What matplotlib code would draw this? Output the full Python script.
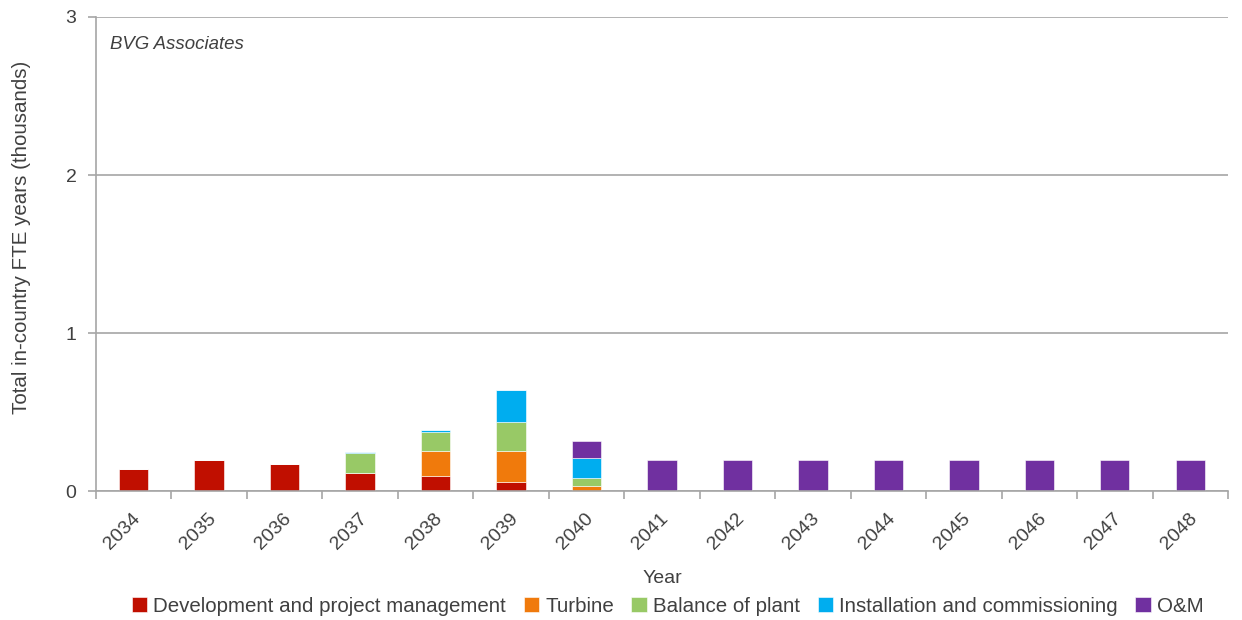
import numpy as np
import matplotlib.pyplot as plt
from matplotlib.transforms import ScaledTranslation

plt.rcParams['font.family'] = ['Liberation Sans', 'DejaVu Sans']

years = ['2034', '2035', '2036', '2037', '2038', '2039', '2040', '2041',
         '2042', '2043', '2044', '2045', '2046', '2047', '2048']
# values in thousands of FTE years
devpm = [0.137, 0.194, 0.171, 0.114, 0.097, 0.057, 0, 0, 0, 0, 0, 0, 0, 0, 0]
turbine = [0, 0, 0, 0, 0.154, 0.194, 0.032, 0, 0, 0, 0, 0, 0, 0, 0]
bop = [0, 0, 0, 0.124, 0.125, 0.186, 0.048, 0, 0, 0, 0, 0, 0, 0, 0]
install = [0, 0, 0, 0.009, 0.008, 0.205, 0.131, 0, 0, 0, 0, 0, 0, 0, 0]
om = [0, 0, 0, 0, 0, 0, 0.105, 0.195, 0.195, 0.195, 0.195, 0.195, 0.195, 0.195, 0.195]

series = [('Development and project management', devpm, '#C00F00'),
          ('Turbine', turbine, '#F07A0C'),
          ('Balance of plant', bop, '#98C966'),
          ('Installation and commissioning', install, '#00ADEF'),
          ('O&M', om, '#7030A0')]

fig = plt.figure(figsize=(12.42, 6.2), dpi=100)
ax = fig.add_axes([0.0773, 0.208, 0.9114, 0.7646])

x = np.arange(len(years))
bottom = np.zeros(len(years))
for name, vals, col in series:
    vals = np.array(vals)
    ax.bar(x, vals, width=0.39, bottom=bottom, color=col, label=name,
           edgecolor='white', linewidth=0.4)
    bottom += vals

ax.set_xlim(-0.5, len(years) - 0.5)
ax.set_ylim(0, 3)
ax.set_yticks([0, 1, 2, 3])
ax.set_yticklabels(['0', '1', '2', '3'], fontsize=14, color='#404040')
ax.yaxis.grid(True, color='#A6A6A6', linewidth=1.2)
ax.set_axisbelow(True)

ax.set_xticks(np.arange(-0.5, len(years), 1.0))
ax.set_xticklabels([])
ax.set_xticks(x, minor=True)
ax.set_xticklabels(years, minor=True, rotation=45, ha='right', va='center',
                   rotation_mode='anchor', fontsize=14, color='#404040')
ax.tick_params(axis='x', which='minor', length=0, pad=18)
ax.tick_params(axis='x', which='major', length=6, color='#A6A6A6', width=1.2)
ax.tick_params(axis='y', length=6, color='#A6A6A6', width=1.2, pad=8)
shift = ScaledTranslation(3 / 72, 0, fig.dpi_scale_trans)
for lab in ax.get_xticklabels(minor=True):
    lab.set_transform(lab.get_transform() + shift)

for s in ['top', 'right']:
    ax.spines[s].set_visible(False)
for s in ['left', 'bottom']:
    ax.spines[s].set_color('#A6A6A6')
    ax.spines[s].set_linewidth(1.2)

ax.set_ylabel('Total in-country FTE years (thousands)', fontsize=14.8, color='#404040', va='center')
ax.yaxis.set_label_coords(-0.066, 0.536)
ax.set_xlabel('Year', fontsize=14, color='#404040', va='center')
ax.xaxis.set_label_coords(0.5, -0.184)
ax.text(0.012, 0.943, 'BVG Associates', transform=ax.transAxes, fontsize=13.4,
        style='italic', color='#404040', va='center')

ax.legend(loc='center', bbox_to_anchor=(0.505, -0.243), ncol=5, frameon=False,
          fontsize=14.8, handlelength=0.75, handleheight=0.75, handletextpad=0.3,
          columnspacing=0.85, labelcolor='#404040')

fig.savefig('out.png', dpi=100)
